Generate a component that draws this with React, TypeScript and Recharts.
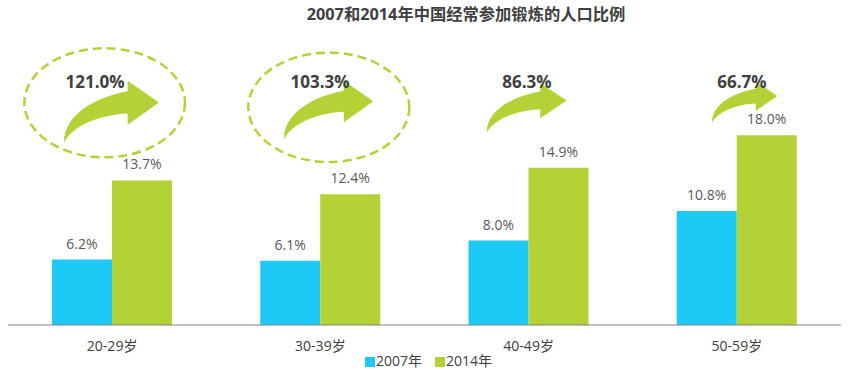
import { BarChart, Bar, XAxis, YAxis, Legend, LabelList } from 'recharts';

const FONT = '"Open Sans", "Noto Sans CJK SC", sans-serif';
const BLUE = '#1dc9f5';
const GREEN = '#b2d235';

const ageGroups = ['20-29岁', '30-39岁', '40-49岁', '50-59岁'];
const values2007 = [6.2, 6.1, 8.0, 10.8];
const values2014 = [13.7, 12.4, 14.9, 18.0];

const chartData = ageGroups.map((age, i) => ({
  age,
  '2007年': values2007[i],
  '2014年': values2014[i],
}));

// growth callouts drawn over the chart
const growthLabels = [
  { text: '121.0%', x: 95, y: 88 },
  { text: '103.3%', x: 320, y: 88 },
  { text: '86.3%', x: 527, y: 88 },
  { text: '66.7%', x: 742, y: 88 },
];
const arrows = [
  { x: 64, y: 80.7, w: 95, h: 62 },
  { x: 284, y: 80.7, w: 89.3, h: 58.6 },
  { x: 486.7, y: 83, w: 80, h: 49.7 },
  { x: 712, y: 81.7, w: 65.3, h: 41 },
];
const ellipses = [
  { cx: 104.7, cy: 102.8, rx: 80.3, ry: 54.5 },
  { cx: 328.8, cy: 107.3, rx: 80.5, ry: 54.7 },
];

// curved arrow in a 100x100 box, scaled per callout
const ARROW_PATH =
  'M0 100 C0 55 32 27 67 17 L67 0 L100 35 L67 71 L67 53 C38 55 9 72 0 100 Z';

const fmt = (v: number) => `${v.toFixed(1)}%`;

export default function App() {
  return (
    <div style={{ position: 'absolute', left: 0, top: 0, width: 848, height: 370, fontFamily: FONT, background: '#fff' }}>
      <BarChart
        width={848}
        height={370}
        data={chartData}
        barGap={0}
        barCategoryGap={44}
        margin={{ top: 25, right: 7, bottom: 15, left: 8 }}
      >
        <XAxis
          dataKey="age"
          tickLine={false}
          stroke="#808080"
          tick={{ fill: '#404040', fontSize: 14, fontFamily: FONT }}
          tickMargin={10}
        />
        <YAxis hide domain={[0, 28.44]} />
        {/* verticalAlign middle keeps the legend from taking space off the plot */}
        <Legend
          verticalAlign="middle"
          iconType="square"
          iconSize={10}
          wrapperStyle={{ position: 'absolute', top: 350, left: 0, width: 848, fontSize: 14, lineHeight: '22px', paddingLeft: 11 }}
          formatter={(value: string) => <span style={{ color: '#404040', marginLeft: -3, marginRight: 3 }}>{value}</span>}
        />
        <Bar dataKey="2007年" fill={BLUE} isAnimationActive={false}>
          <LabelList dataKey="2007年" position="top" offset={11} formatter={fmt} fill="#595959" fontSize={14} fontFamily={FONT} />
        </Bar>
        <Bar dataKey="2014年" fill={GREEN} isAnimationActive={false}>
          <LabelList dataKey="2014年" position="top" offset={11} formatter={fmt} fill="#595959" fontSize={14} fontFamily={FONT} />
        </Bar>
      </BarChart>

      <svg width={848} height={370} style={{ position: 'absolute', left: 0, top: 0, pointerEvents: 'none' }}>
        <text x={466} y={20} textAnchor="middle" fontSize={16.3} fontWeight="bold" fill="#404040" fontFamily={FONT}>
          2007和2014年中国经常参加锻炼的人口比例
        </text>
        {ellipses.map((e, i) => (
          <ellipse key={i} {...e} fill="none" stroke={GREEN} strokeWidth={2.5} strokeDasharray="9 5" />
        ))}
        {arrows.map((a, i) => (
          <path
            key={i}
            d={ARROW_PATH}
            fill={GREEN}
            transform={`translate(${a.x} ${a.y}) scale(${a.w / 100} ${a.h / 100})`}
          />
        ))}
        {growthLabels.map((g) => (
          <text key={g.text} x={g.x} y={g.y} textAnchor="middle" fontSize={17} fontWeight="bold" fill="#404040" fontFamily={FONT}>
            {g.text}
          </text>
        ))}
      </svg>
    </div>
  );
}
